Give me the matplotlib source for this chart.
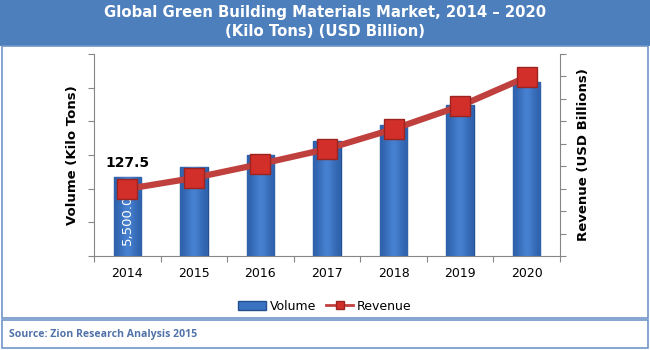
import matplotlib.pyplot as plt
import matplotlib.patches as mpatches
from matplotlib.lines import Line2D
import numpy as np

years = ['2014', '2015', '2016', '2017', '2018', '2019', '2020']
volume = [5500, 6170, 7000, 7970, 9080, 10470, 12060]   # kilo tons
revenue = [127.5, 148.3, 174.9, 203.4, 241.4, 285.1, 340.3]  # USD billion

fig = plt.figure(figsize=(6.5, 3.5), dpi=100)
fig.patch.set_facecolor('white')

# title band + frames
fig.add_artist(mpatches.Rectangle((0, 1 - 46/350.), 1, 46/350., transform=fig.transFigure,
                                  facecolor='#4d7fbd', edgecolor='none'))
fig.add_artist(mpatches.Rectangle((2/650., 1 - 318/350.), 646/650., 272/350., transform=fig.transFigure,
                                  facecolor='none', edgecolor='#6f95c8', lw=1.2))
fig.add_artist(mpatches.Rectangle((2/650., 2/350.), 646/650., 28/350., transform=fig.transFigure,
                                  facecolor='none', edgecolor='#6f95c8', lw=1.2))
fig.text(0.5, 1 - 13/350., 'Global Green Building Materials Market, 2014 \u2013 2020',
         ha='center', va='center', color='white', fontsize=10.7, fontweight='bold', family='DejaVu Sans')
fig.text(0.5, 1 - 32/350., '(Kilo Tons) (USD Billion)',
         ha='center', va='center', color='white', fontsize=10.7, fontweight='bold', family='DejaVu Sans')
fig.text(9/650., 1 - 334/350., 'Source: Zion Research Analysis 2015', ha='left', va='center',
         color='#5072a8', fontsize=7.6, fontweight='bold', family='Open Sans')

ax = fig.add_axes([94/650., 1 - 256/350., 466/650., 202/350.])
x = np.arange(len(years))
bars = ax.bar(x, volume, width=0.41, color='#3b73c2', edgecolor='#24508f', linewidth=1, zorder=2)
# lighter sheen down the middle of each bar
grad = np.array([[0.0, 0.5, 1.0, 0.5, 0.0]])
for b in bars:
    im = ax.imshow(grad, cmap=plt.matplotlib.colors.LinearSegmentedColormap.from_list(
        'sheen', ['#2f62ad', '#4a86d6']), aspect='auto', interpolation='bicubic',
        extent=[b.get_x(), b.get_x() + b.get_width(), 0, b.get_height()], zorder=2.1)
    im.set_clip_path(b)
ax.set_xlim(-0.5, 6.5)
ax.set_ylim(0, 14000)
ax.set_yticks(np.linspace(0, 14000, 7))
ax.set_yticklabels([])
ax.set_xticks(np.arange(-0.5, 7, 1))
ax.set_xticklabels([])
ax.set_xticks(x, minor=True)
ax.set_xticklabels(years, minor=True, fontsize=9)
ax.tick_params(axis='x', which='minor', length=0, pad=8)
ax.tick_params(axis='x', which='major', length=4, color='#868686', direction='out')
ax.tick_params(axis='y', length=4, color='#868686', direction='out')
for s in ['top', 'right']:
    ax.spines[s].set_visible(False)
for s in ['left', 'bottom']:
    ax.spines[s].set_color('#868686')
ax.set_ylabel('Volume (Kilo Tons)', fontsize=9.5, fontweight='bold', labelpad=3)
ax.text(0, volume[0] * 0.45, '{:,.1f}'.format(volume[0]), rotation=90, color='white',
        ha='center', va='center', fontsize=9.5, zorder=5)
ax.text(0, volume[0] + 450, '127.5', ha='center', va='bottom', fontsize=10, fontweight='bold', zorder=5)

ax2 = ax.twinx()
ax2.set_ylim(0, 384)
ax2.set_yticks(np.linspace(0, 384, 10))
ax2.set_yticklabels([])
ax2.plot(x, revenue, color='#c0403d', lw=4.5, marker='s', markersize=14,
         markerfacecolor='#d22f2b', markeredgecolor='#9c2420', markeredgewidth=1, zorder=3)
ax2.tick_params(axis='y', length=4, color='#868686', direction='out')
for s in ['top', 'left', 'bottom']:
    ax2.spines[s].set_visible(False)
ax2.spines['right'].set_color('#868686')
ax2.set_ylabel('Revenue (USD Billions)', fontsize=9.5, fontweight='bold', labelpad=5)

handles = [mpatches.Patch(facecolor='#3b73c2', edgecolor='#24508f', label='Volume'),
           Line2D([], [], color='#c0403d', lw=2, marker='s', markersize=6,
                  markerfacecolor='#d22f2b', markeredgecolor='#9c2420', label='Revenue')]
fig.legend(handles=handles, loc='center', bbox_to_anchor=(0.5, 1 - 306/350.), ncol=2, frameon=False,
           fontsize=9, handlelength=2.2, handletextpad=0.3, columnspacing=0.8)

fig.savefig('out.png', dpi=100)
